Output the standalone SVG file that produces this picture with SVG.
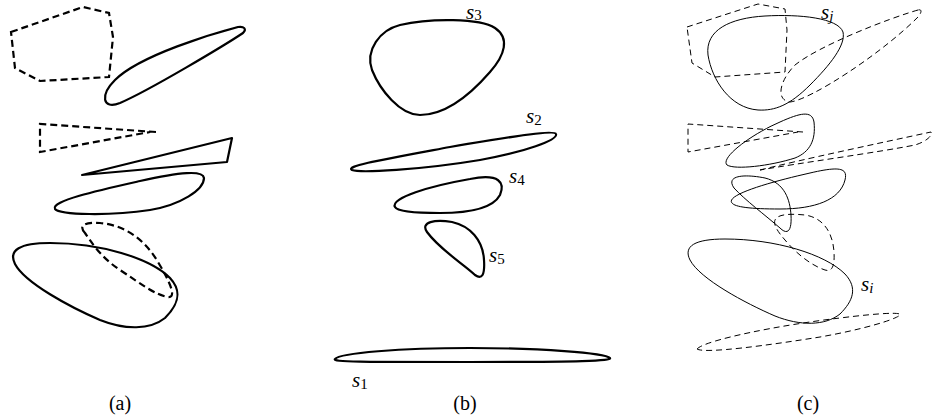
<svg xmlns="http://www.w3.org/2000/svg" width="932" height="420" viewBox="0 0 932 420">
<style>
.k{fill:none;stroke:#000;stroke-width:2.2;stroke-linejoin:round}
.kd{fill:none;stroke:#000;stroke-width:2.2;stroke-dasharray:7 4}
.t{fill:none;stroke:#000;stroke-width:1}
.td{fill:none;stroke:#000;stroke-width:1;stroke-dasharray:6 4}
.lab{font-family:"Liberation Serif","Times New Roman",serif;font-size:21px;font-style:italic}
.sub{font-style:normal;font-size:15px}
.subi{font-size:15px}
.cap{font-family:"Liberation Serif","Times New Roman",serif;font-size:20px;text-anchor:middle}
</style>
<rect width="932" height="420" fill="#fff"/>
<g id="panel-a">
<polygon class="kd" points="11,32 83,7 109,13 113,37 109,77 40,81 15,68"/>
<path class="k" d="M238,27 C215,33 140,55 115,80 C100,95 102,110 120,103 C150,90 225,45 243,33 C247,29 244,26 238,27 Z"/>
<polyline class="kd" points="156,132 40,124 40,152 150,132"/>
<polygon class="k" points="82,175 232,138 227,162"/>
<path class="k" d="M55,209 C50,201 100,190 140,181 C180,172 203,170 204,178 C204,190 180,205 150,210 C110,216 60,215 55,209 Z"/>
<path class="kd" d="M85,233 C78,225 85,222 100,223 C125,225 145,240 158,262 C170,282 177,298 168,297 C155,295 140,283 120,270 C100,257 90,240 85,233 Z"/>
<path class="k" d="M15,264 C8,250 20,243 50,243 C100,243 150,258 170,278 C183,292 178,305 165,318 C150,330 125,330 100,320 C70,307 25,283 15,264 Z"/>
</g>
<g id="panel-b">
<g id="s3">
<path class="k" d="M372,70 C365,50 380,30 400,25 C430,18 480,18 495,28 C510,38 505,55 490,72 C470,95 445,115 420,115 C400,115 380,90 372,70 Z"/>
<text class="lab" x="466" y="19">s<tspan class="sub" dy="1">3</tspan></text>
</g>
<g id="s2">
<path class="k" d="M352,170 C345,166 380,160 450,147 C520,135 555,130 556,134 C558,140 525,152 480,160 C420,170 360,173 352,170 Z"/>
<text class="lab" x="526" y="123">s<tspan class="sub" dy="2">2</tspan></text>
</g>
<g id="s4">
<path class="k" d="M395,207 C390,198 430,186 470,179 C500,173 505,183 500,195 C493,208 470,213 440,213 C410,213 397,211 395,207 Z"/>
<text class="lab" x="509" y="183">s<tspan class="sub" dy="2">4</tspan></text>
</g>
<g id="s5">
<path class="k" d="M427,232 C420,222 435,219 452,222 C470,226 483,240 484,260 C485,275 482,280 475,275 C465,265 440,250 427,232 Z"/>
<text class="lab" x="489" y="262">s<tspan class="sub" dy="2">5</tspan></text>
</g>
<g id="s1">
<path class="k" d="M335,359 C340,353 400,348 470,348 C540,348 605,353 610,358 C612,361 580,362 470,362 C360,362 332,362 335,359 Z"/>
<text class="lab" x="352" y="387">s<tspan class="sub" dy="2">1</tspan></text>
</g>
</g>
<g id="panel-c">
<polygon class="td" points="687,27 758,4 785,9 787,30 785,72 715,77 692,63"/>
<path class="td" d="M918,10 C890,18 820,45 795,65 C780,80 775,100 790,102 C810,100 880,55 918,17 C922,12 922,9 918,10 Z"/>
<g id="sj">
<path class="t" d="M708,55 C705,30 730,18 765,16 C800,14 838,18 843,32 C846,45 830,65 810,85 C790,105 775,111 758,110 C730,108 712,80 708,55 Z"/>
<text class="lab" x="821" y="19">s<tspan class="subi" dy="2">j</tspan></text>
</g>
<polyline class="td" points="803,132 688,124 688,152 798,132"/>
<path class="t" d="M727,165 C720,158 750,135 780,122 C800,113 812,110 814,122 C816,140 810,152 795,158 C770,166 735,170 727,165 Z"/>
<path class="td" d="M760,170 C800,160 880,143 931,132 C933,136 925,142 915,145 C880,152 800,163 760,170 Z"/>
<path class="t" d="M732,203 C725,195 770,182 810,173 C840,166 848,168 845,180 C840,200 815,209 780,209 C750,209 735,207 732,203 Z"/>
<path class="t" d="M734,188 C725,175 745,174 765,178 C785,183 790,200 791,215 C792,232 787,235 780,228 C765,215 745,200 734,188 Z"/>
<path class="td" d="M775,225 C772,215 785,213 805,215 C825,218 833,235 834,252 C835,268 831,272 825,270 C810,265 795,252 785,240 C778,232 776,228 775,225 Z"/>
<g id="si">
<path class="t" d="M690,260 C683,246 695,239 725,239 C775,239 825,254 845,274 C858,288 853,301 840,314 C825,326 800,326 775,316 C745,303 700,279 690,260 Z"/>
<text class="lab" x="861" y="291">s<tspan class="subi" dy="2">i</tspan></text>
</g>
<path class="td" d="M697,349 C705,340 780,325 840,318 C880,313 902,312 900,315 C895,320 860,330 820,337 C770,345 705,354 697,349 Z"/>
</g>
<g id="captions">
<text class="cap" x="120" y="410">(a)</text>
<text class="cap" x="465" y="410">(b)</text>
<text class="cap" x="808" y="410">(c)</text>
</g>
</svg>
